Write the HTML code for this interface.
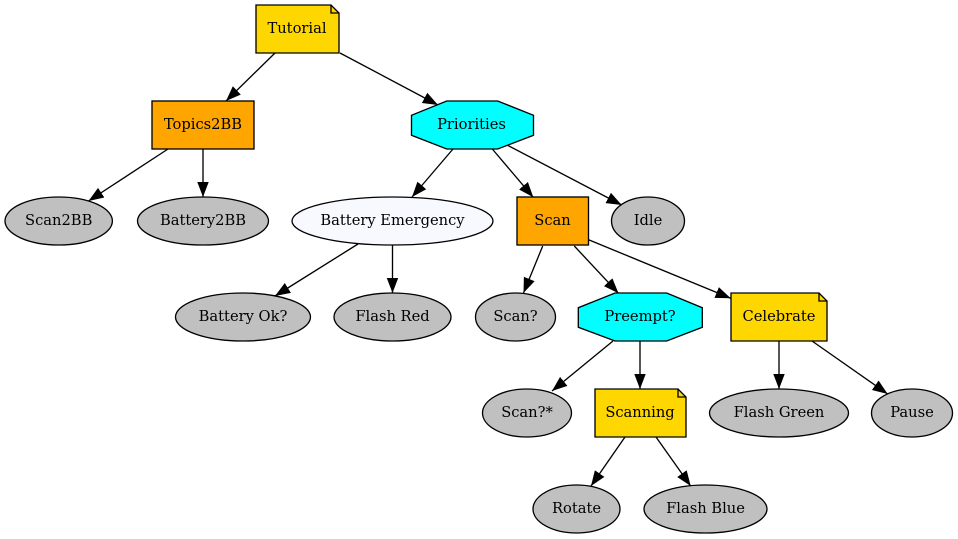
<!DOCTYPE html>
<html><head><meta charset="utf-8"><style>
html,body{margin:0;padding:0;background:#fff}
svg{display:block}
text{font-family:"DejaVu Serif",serif;font-size:14.67px;text-anchor:middle;fill:#000}
.e line{stroke:#000;stroke-width:1.33;marker-end:url(#a)}
.n *{stroke:#000;stroke-width:1.33}
.n text{stroke:none}
.g{fill:#c0c0c0}.o{fill:#ffa500}.c{fill:#00ffff}.y{fill:#ffd700}
.f{fill:none}
</style></head><body>
<svg width="958" height="539" viewBox="0 0 958 539" xmlns="http://www.w3.org/2000/svg">
<defs><marker id="a" markerUnits="userSpaceOnUse" markerWidth="17" markerHeight="13" refX="15.2" refY="6" orient="auto"><path d="M0,0.2L15.2,6L0,11.8z" fill="#000"/></marker></defs>
<g class="e">
<line x1="275" y1="53" x2="226" y2="101"/>
<line x1="340" y1="53" x2="438" y2="105"/>
<line x1="168" y1="149" x2="88.5" y2="201"/>
<line x1="203" y1="149" x2="203" y2="197"/>
<line x1="453" y1="149" x2="412" y2="197"/>
<line x1="492.3" y1="149" x2="533.3" y2="197.3"/>
<line x1="507" y1="145" x2="621.7" y2="205"/>
<line x1="358" y1="244" x2="275" y2="296"/>
<line x1="392.5" y1="245" x2="392.5" y2="293"/>
<line x1="542.7" y1="246" x2="523.5" y2="293"/>
<line x1="574.3" y1="246" x2="618.5" y2="293.3"/>
<line x1="588" y1="239.5" x2="730.7" y2="298.3"/>
<line x1="613" y1="341" x2="552" y2="391"/>
<line x1="640" y1="341" x2="640" y2="389"/>
<line x1="779" y1="341" x2="779" y2="389"/>
<line x1="812" y1="341" x2="887.7" y2="394"/>
<line x1="625" y1="437" x2="591" y2="486"/>
<line x1="656" y1="437" x2="690.7" y2="486"/>
</g>
<g class="n">
<path class="y" d="M256,5H331L339,13V53H256Z"/><path class="f" d="M331,5V13H339"/>
<text x="297" y="33">Tutorial</text>
<rect class="o" x="152" y="101" width="102" height="48"/>
<text x="203" y="129">Topics2BB</text>
<polygon class="c" points="446.7,101 497.7,101 533.5,115.3 533.5,135.3 497.7,149 446.7,149 411.5,135.3 411.5,115.3"/>
<text x="471.5" y="129">Priorities</text>
<ellipse class="g" cx="58.7" cy="221" rx="53.7" ry="24"/>
<text x="58.7" y="225">Scan2BB</text>
<ellipse class="g" cx="203" cy="221" rx="65.5" ry="24"/>
<text x="203" y="225">Battery2BB</text>
<ellipse fill="#f8f8ff" cx="392.5" cy="221" rx="100.5" ry="24"/>
<text x="392.5" y="225">Battery Emergency</text>
<rect class="o" x="517" y="197" width="71.5" height="48"/>
<text x="552.5" y="225">Scan</text>
<ellipse class="g" cx="648" cy="221" rx="36.5" ry="24"/>
<text x="648" y="225">Idle</text>
<ellipse class="g" cx="243" cy="317" rx="67.5" ry="24"/>
<text x="243" y="321">Battery Ok?</text>
<ellipse class="g" cx="392.5" cy="317" rx="58.5" ry="24"/>
<text x="392.5" y="321">Flash Red</text>
<ellipse class="g" cx="515.5" cy="317" rx="40" ry="24"/>
<text x="515.5" y="321">Scan?</text>
<polygon class="c" points="615,293 666.7,293 702.3,307.7 702.3,327.3 666.7,341 615,341 578.3,327.3 578.3,307.7"/>
<text x="640" y="321">Preempt?</text>
<path class="y" d="M731,293H819L827,301V341H731Z"/><path class="f" d="M819,293V301H827"/>
<text x="779" y="321">Celebrate</text>
<ellipse class="g" cx="527" cy="413" rx="44.5" ry="24"/>
<text x="527" y="417">Scan?*</text>
<path class="y" d="M595,389H678L686,397V437H595Z"/><path class="f" d="M678,389V397H686"/>
<text x="640" y="417">Scanning</text>
<ellipse class="g" cx="779" cy="413" rx="69.5" ry="24"/>
<text x="779" y="417">Flash Green</text>
<ellipse class="g" cx="912" cy="413" rx="40.5" ry="24"/>
<text x="912" y="417">Pause</text>
<ellipse class="g" cx="576.5" cy="509" rx="43.5" ry="24"/>
<text x="576.5" y="513">Rotate</text>
<ellipse class="g" cx="705.5" cy="509" rx="61.5" ry="24"/>
<text x="705.5" y="513">Flash Blue</text>
</g>
</svg>
</body></html>
